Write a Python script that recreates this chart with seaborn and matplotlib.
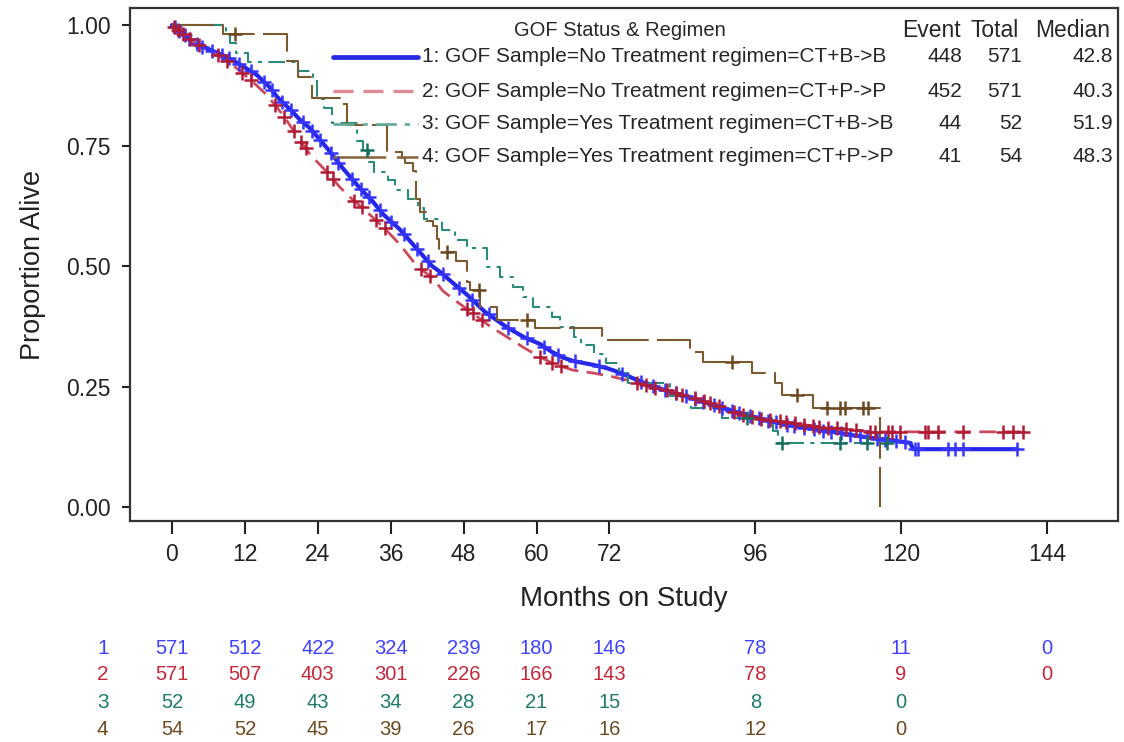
import numpy as np
import matplotlib
matplotlib.use("Agg")
import matplotlib.pyplot as plt
import seaborn as sns

# === legend / summary table ===
group_ids = ["1", "2", "3", "4"]
group_labels = [
    "1: GOF Sample=No Treatment regimen=CT+B->B",
    "2: GOF Sample=No Treatment regimen=CT+P->P",
    "3: GOF Sample=Yes Treatment regimen=CT+B->B",
    "4: GOF Sample=Yes Treatment regimen=CT+P->P",
]
events = [448, 452, 44, 41]
totals = [571, 571, 52, 54]
medians = ["42.8", "40.3", "51.9", "48.3"]

# === survival curves (months, proportion alive) ===
t1 = [0, 1.5, 3.5, 6.0, 9.0, 12.0, 14.0, 16.0, 17.3, 19.9, 21.1, 22.7, 25.5, 28.1,
      30.9, 33.1, 34.7, 37.5, 40.0, 42.8, 44.1, 46.5, 48.6, 51.5, 55.1, 58.0, 60.6,
      62.5, 64.4, 66.0, 69.3, 71.6, 73.7, 75.9, 79.2, 82.5, 85.0, 88.1, 90.5, 93.5,
      96.0, 98.9, 101.5, 104.5, 107.0, 109.9, 112.5, 115.4, 118.7, 121.5, 122.0, 139.1]
s1 = [1.0, 0.985, 0.963, 0.950, 0.934, 0.912, 0.896, 0.872, 0.851, 0.819, 0.803, 0.786,
      0.745, 0.703, 0.662, 0.633, 0.608, 0.576, 0.540, 0.500, 0.488, 0.462, 0.440,
      0.405, 0.373, 0.352, 0.338, 0.322, 0.310, 0.303, 0.295, 0.288, 0.279, 0.267,
      0.250, 0.238, 0.228, 0.216, 0.206, 0.195, 0.186, 0.177, 0.170, 0.164, 0.159,
      0.154, 0.148, 0.143, 0.138, 0.133, 0.120, 0.120]
c1 = [0.5, 1.2, 2.1, 2.8, 4.1, 5.0, 6.6, 8.2, 9.4, 11.1, 13.0, 15.2, 16.4, 18.1, 19.6,
      21.5, 23.1, 24.4, 26.2, 27.4, 29.6, 31.1, 32.4, 34.2, 36.1, 38.2, 40.4, 42.1,
      44.6, 47.2, 49.4, 52.1, 55.3, 58.4, 61.2, 63.6, 66.4, 70.2, 74.1, 77.2, 79.1,
      81.2, 82.9, 84.6, 86.1, 87.4, 89.2, 90.6, 92.1, 93.4, 95.2, 96.6, 98.1, 99.4,
      101.2, 102.4, 104.1, 105.6, 107.2, 108.4, 110.1, 111.6, 113.2, 114.4, 116.1,
      117.4, 119.1, 120.6, 122.3, 122.8, 127.7, 128.9, 130.2, 139.1]

t2 = [0, 1.5, 3.5, 6.7, 10.0, 13.3, 15.6, 18.3, 21.1, 22.7, 25.5, 27.6, 29.8, 32.1,
      35.0, 37.5, 40.3, 43.0, 44.6, 47.0, 49.5, 52.0, 55.1, 58.0, 60.6, 63.0, 66.0,
      69.3, 72.6, 75.0, 77.0, 80.0, 82.5, 85.0, 88.1, 91.0, 93.5, 96.0, 98.9, 101.5,
      104.5, 107.0, 109.9, 112.5, 115.4, 140.1]
s2 = [1.0, 0.985, 0.965, 0.944, 0.917, 0.882, 0.855, 0.813, 0.760, 0.732, 0.695, 0.664,
      0.637, 0.612, 0.578, 0.545, 0.500, 0.474, 0.448, 0.425, 0.402, 0.378, 0.353,
      0.330, 0.311, 0.296, 0.284, 0.278, 0.270, 0.263, 0.256, 0.246, 0.239, 0.229,
      0.218, 0.205, 0.192, 0.185, 0.180, 0.175, 0.170, 0.166, 0.163, 0.159, 0.156, 0.156]
c2 = [0.4, 1.0, 1.8, 3.0, 4.5, 7.5, 9.0, 11.5, 13.0, 17.0, 18.5, 20.0, 21.2, 22.0, 25.5,
      26.5, 30.0, 31.2, 33.5, 35.0, 41.0, 42.5, 48.5, 49.5, 51.0, 60.5, 62.5, 64.0,
      76.5, 78.0, 79.5, 81.5, 83.0, 84.0, 86.0, 87.5, 88.5, 90.0, 92.5, 94.0, 95.5,
      97.0, 98.5, 100.0, 101.0, 102.5, 104.0, 105.5, 106.5, 108.0, 109.5, 111.0,
      112.5, 114.9, 115.7, 117.8, 118.5, 119.8, 123.9, 124.4, 126.1, 130.2, 136.8,
      138.4, 140.1]

t3 = [0, 8.9, 9.5, 10.5, 12.5, 20.7, 23.2, 23.9, 25.0, 26.3, 30.4, 31.5, 32.4, 33.2,
      35.5, 36.7, 38.8, 40.5, 41.5, 44.5, 46.5, 48.5, 51.8, 54.0, 56.1, 57.8, 59.4,
      62.6, 63.9, 66.2, 67.4, 69.5, 71.5, 73.5, 75.0, 82.0, 85.5, 90.5, 99.0, 99.8, 117.6]
s3 = [1.0, 0.981, 0.962, 0.942, 0.923, 0.904, 0.885, 0.846, 0.827, 0.797, 0.760, 0.740,
      0.716, 0.696, 0.678, 0.658, 0.640, 0.620, 0.597, 0.575, 0.555, 0.537, 0.498,
      0.477, 0.456, 0.435, 0.415, 0.394, 0.373, 0.352, 0.336, 0.317, 0.299, 0.278,
      0.257, 0.230, 0.206, 0.185, 0.158, 0.133, 0.133]
c3 = [32.1, 94.6, 100.4, 109.9, 114.4, 117.6]

t4 = [0, 8.4, 19.0, 20.7, 23.0, 27.6, 28.8, 35.4, 37.8, 38.4, 39.7, 40.2, 40.8, 41.8,
      43.0, 43.6, 43.9, 46.8, 48.6, 49.0, 50.7, 53.5, 59.8, 70.8, 85.3, 87.4, 95.5,
      99.2, 100.4, 105.5, 116.5]
s4 = [1.0, 0.981, 0.926, 0.892, 0.849, 0.836, 0.793, 0.737, 0.724, 0.713, 0.698, 0.640,
      0.612, 0.593, 0.583, 0.556, 0.529, 0.510, 0.467, 0.450, 0.415, 0.388, 0.371,
      0.346, 0.322, 0.301, 0.278, 0.257, 0.232, 0.205, 0.0]
c4 = [10.4, 45.3, 50.5, 58.4, 92.2, 102.9, 107.8, 109.9, 110.8, 113.7, 114.5]

# === numbers at risk ===
risk_times = [0, 12, 24, 36, 48, 60, 72, 96, 120, 144]
risk1 = [571, 512, 422, 324, 239, 180, 146, 78, 11, 0]
risk2 = [571, 507, 403, 301, 226, 166, 143, 78, 9, 0]
risk3 = [52, 49, 43, 34, 28, 21, 15, 8, 0]
risk4 = [54, 52, 45, 39, 26, 17, 16, 12, 0]

x_ticks = [0, 12, 24, 36, 48, 60, 72, 96, 120, 144]
y_ticks = [0.0, 0.25, 0.5, 0.75, 1.0]

# === styles ===
line_cols = ["#2626e6", "#cc4a5e", "#2b8a78", "#7a5a30"]
mark_cols = ["#3535ff", "#b01c36", "#1a6e5e", "#6b4a22"]
legend_cols = ["#2626e6", "#dc8a96", "#62a898", "#8a6a42"]
table_cols = ["#4040ff", "#c0283c", "#1f7a6a", "#6b4a22"]
styles = ["-", (0, (6, 3)), (0, (8, 3, 2, 3)), (0, (20, 4))]
widths = [3.0, 2.0, 1.5, 1.5]
steps = [False, False, True, True]

sns.set_theme(style="ticks")
plt.rcParams["font.family"] = ["Liberation Sans", "DejaVu Sans"]

fig = plt.figure(figsize=(11.24, 7.42), dpi=100)
ax = fig.add_axes([130 / 1124, 1 - 521 / 742, 988 / 1124, 513 / 742])

curves = [(t1, s1, c1), (t2, s2, c2), (t3, s3, c3), (t4, s4, c4)]
for i, (t, s, c) in enumerate(curves):
    kw = {"drawstyle": "steps-post"} if steps[i] else {}
    sns.lineplot(x=t, y=s, ax=ax, color=line_cols[i], linewidth=widths[i],
                 linestyle=styles[i], estimator=None, sort=False, **kw)
    t_arr, s_arr, c_arr = np.array(t), np.array(s), np.array(c)
    if steps[i]:
        idx = np.searchsorted(t_arr, c_arr, side="right") - 1
        cy = s_arr[idx]
    else:
        cy = np.interp(c_arr, t_arr, s_arr)
    sns.scatterplot(x=c_arr, y=cy, ax=ax, marker="+", s=90, color=mark_cols[i],
                    linewidth=1.8, zorder=3)

ax.set_xlim(-6.91, 155.7)
ax.set_ylim(-0.029, 1.0353)
ax.set_xticks(x_ticks)
ax.set_yticks(y_ticks)
ax.set_yticklabels([f"{v:.2f}" for v in y_ticks])
ax.tick_params(axis="both", labelsize=16.5, colors="#222222", width=1.5)
ax.tick_params(axis="x", length=9, pad=7)
ax.tick_params(axis="y", length=6, pad=8)
for sp in ax.spines.values():
    sp.set_visible(True)
    sp.set_linewidth(1.6)
    sp.set_color("#333333")
ax.set_xlabel("Months on Study", fontsize=20, labelpad=14, color="#222222")
ax.set_ylabel("Proportion Alive", fontsize=19.5, labelpad=14, color="#222222")

# === legend table inside the plot ===
ax.text(0.496, 0.957, "GOF Status & Regimen", transform=ax.transAxes,
        ha="center", va="center", fontsize=14.5)
for xh, h in zip([0.811, 0.8755, 0.9545], ["Event", "Total", "Median"]):
    ax.text(xh, 0.957, h, transform=ax.transAxes, ha="center", va="center", fontsize=16.5)
row_y = [0.9045, 0.8382, 0.7739, 0.7096]
for i in range(4):
    ax.plot([0.2055, 0.2915], [row_y[i], row_y[i]], transform=ax.transAxes,
            color=legend_cols[i], linewidth=widths[i] + 0.4, linestyle=styles[i])
    ax.text(0.2955, row_y[i], group_labels[i], transform=ax.transAxes,
            ha="left", va="center", fontsize=15)
    ax.text(0.842, row_y[i], str(events[i]), transform=ax.transAxes,
            ha="right", va="center", fontsize=15)
    ax.text(0.903, row_y[i], str(totals[i]), transform=ax.transAxes,
            ha="right", va="center", fontsize=15)
    ax.text(0.995, row_y[i], medians[i], transform=ax.transAxes,
            ha="right", va="center", fontsize=15)

# === number at risk table below the axis ===
risk_rows = [risk1, risk2, risk3, risk4]
risk_y = [-0.2495, -0.3, -0.353, -0.4055]
xt = ax.get_xaxis_transform()
for i, row in enumerate(risk_rows):
    ax.text(-11.4, risk_y[i], group_ids[i], transform=xt, ha="center", va="center",
            fontsize=15, color=table_cols[i], clip_on=False)
    for tm, n in zip(risk_times, row):
        ax.text(tm, risk_y[i], str(n), transform=xt, ha="center", va="center",
                fontsize=14.5, color=table_cols[i], clip_on=False)

fig.savefig("out.png", dpi=100, facecolor="white")
